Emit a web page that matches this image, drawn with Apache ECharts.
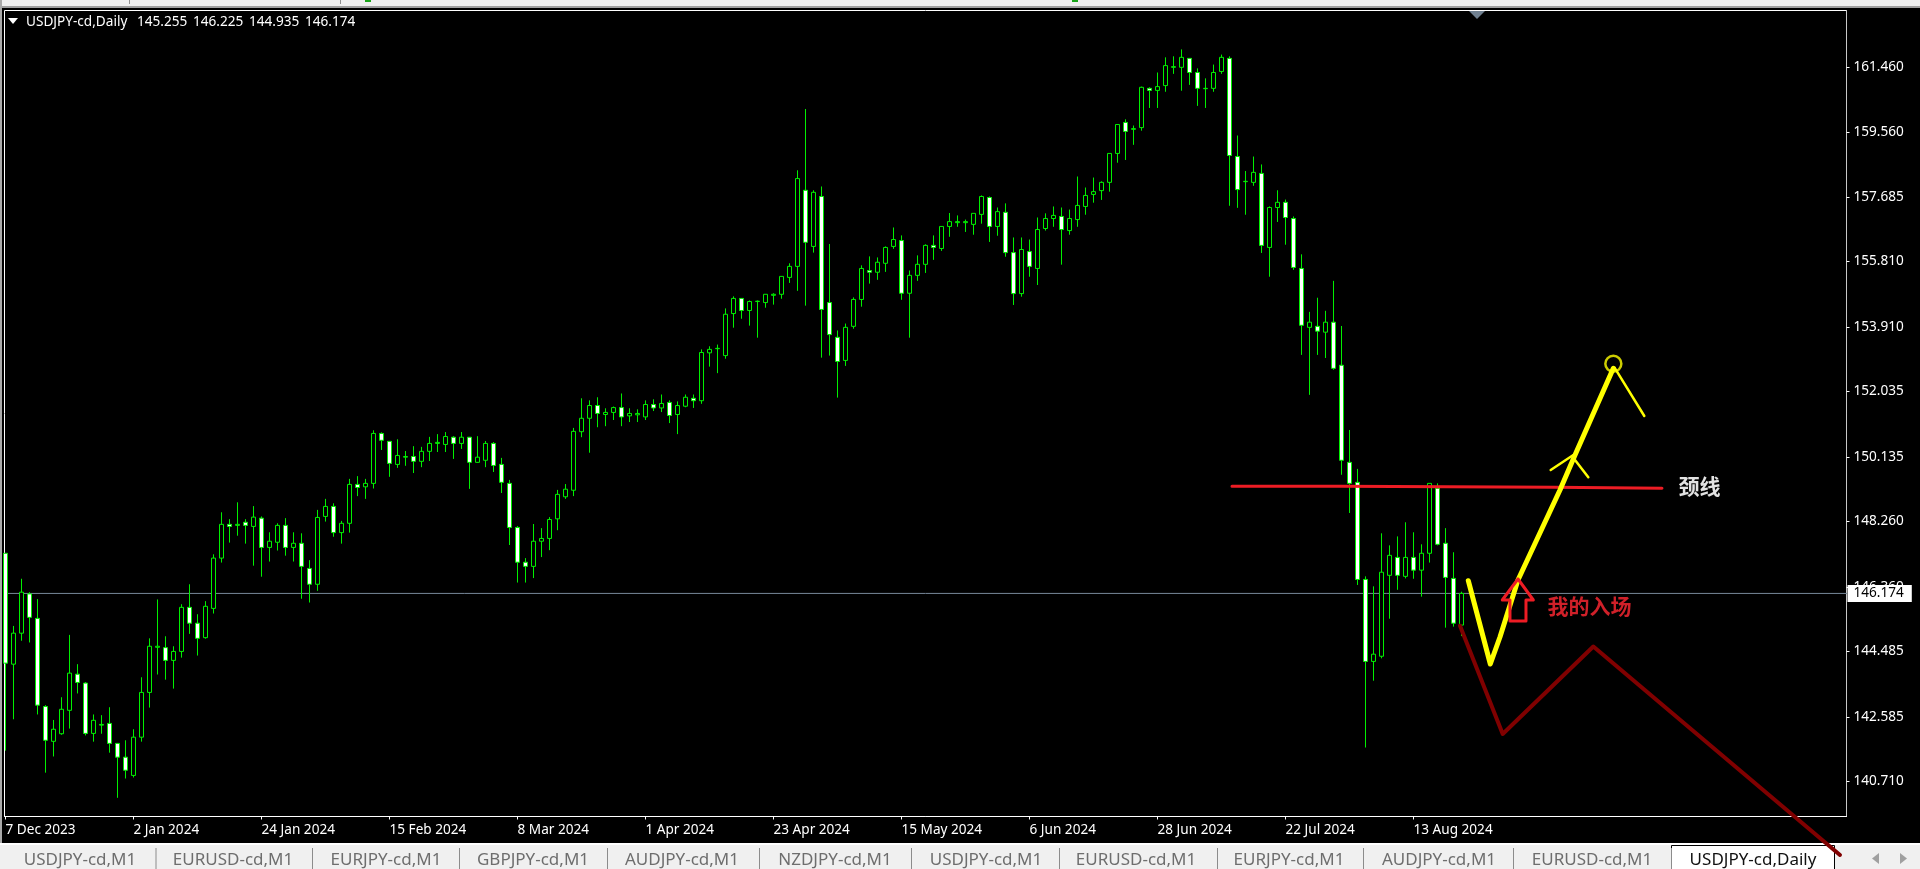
<!DOCTYPE html>
<html><head><meta charset="utf-8"><style>html,body{margin:0;padding:0;background:#000;overflow:hidden}#c{width:1920px;height:869px}</style>
<script src="https://cdn.jsdelivr.net/npm/echarts@6/dist/echarts.min.js"></script></head>
<body><div id="c"></div><script>
const opens=[147.34,144.12,145.02,146.16,145.45,142.89,141.88,142.10,142.78,143.83,143.57,142.11,142.35,142.40,141.82,141.42,140.89,142.00,143.30,144.61,144.60,144.23,144.49,145.77,145.31,144.89,145.74,147.20,148.18,148.15,148.24,148.12,148.36,147.51,147.66,148.15,147.51,147.63,146.90,146.44,
148.41,148.70,147.94,148.21,149.34,149.27,149.37,150.82,150.59,149.92,150.13,150.15,150.01,150.30,150.53,150.50,150.71,150.53,150.71,149.98,150.04,150.53,149.92,149.37,148.09,147.08,146.96,147.69,147.77,148.34,148.98,149.17,
150.87,151.26,151.63,151.37,151.43,151.57,151.33,151.36,151.30,151.66,151.56,151.72,151.37,151.61,151.84,
151.77,153.16,153.28,153.08,154.30,154.74,154.39,154.65,154.62,154.83,154.86,155.35,155.67,157.88,156.25,157.70,154.62,153.61,152.94,153.93,154.71,155.55,155.50,155.76,156.25,156.42,154.89,155.41,
155.73,156.28,156.19,156.83,156.94,156.94,156.89,157.18,157.67,156.83,157.24,156.07,154.88,156.10,155.61,156.77,157.06,157.12,156.71,157.03,157.41,157.76,157.87,158.11,158.95,159.85,159.65,159.70,160.84,160.78,160.92,161.45,161.45,161.71,161.30,160.83,160.84,
161.33,161.71,158.86,158.13,158.11,158.37,156.22,157.38,157.53,157.06,155.61,153.90,153.93,153.76,154.05,152.80,149.98,149.40,146.58,144.20,144.35,146.70,147.22,146.67,147.22,146.85,147.34,149.23,147.63,146.61,145.255];
const closes=[144.15,145.02,146.21,145.48,142.93,141.91,142.23,142.81,143.86,143.59,142.11,142.49,142.37,141.82,141.42,141.04,142.00,143.30,144.64,144.64,144.23,144.49,145.77,145.31,144.87,145.80,147.20,148.18,148.12,148.18,148.15,148.39,147.51,147.69,148.15,147.51,147.63,146.96,146.44,148.38,
148.70,147.94,148.21,149.34,149.25,149.37,150.82,150.62,149.95,150.18,150.15,150.01,150.30,150.53,150.56,150.73,150.53,150.71,149.98,150.13,150.53,149.89,149.40,148.09,147.08,146.96,147.69,147.77,148.32,149.05,149.20,150.88,
151.26,151.63,151.40,151.43,151.57,151.30,151.40,151.40,151.66,151.56,151.69,151.34,151.63,151.87,151.77,
153.17,153.26,153.29,154.28,154.74,154.39,154.65,154.66,154.86,154.86,155.38,155.67,158.22,156.37,157.82,154.42,153.69,152.91,153.90,154.71,155.61,155.50,155.79,156.22,156.45,154.89,155.41,155.73,
156.28,156.22,156.83,156.97,156.97,156.97,157.21,157.70,156.83,157.26,156.07,154.88,156.16,155.67,156.74,157.06,157.15,156.74,157.06,157.44,157.73,157.84,158.11,158.95,159.79,159.59,159.67,160.87,160.78,160.89,161.50,161.47,161.74,161.30,160.84,160.84,161.30,
161.74,158.89,157.90,158.14,158.40,156.28,157.38,157.53,157.09,155.64,153.96,154.05,153.79,154.05,152.71,150.04,149.37,146.58,144.20,144.41,146.79,147.28,146.70,147.22,146.85,147.34,149.37,147.60,146.64,145.31,146.174];
const lows=[141.61,142.52,144.80,144.75,142.66,140.97,141.44,142.07,142.25,143.27,142.05,141.87,142.10,141.55,140.24,140.80,140.83,141.87,142.86,143.82,143.67,143.41,144.31,145.00,144.37,144.86,145.59,147.07,147.65,147.85,147.62,146.98,146.66,147.10,147.42,147.27,147.10,146.02,145.91,146.25,
148.26,147.82,147.62,147.94,149.00,148.92,149.22,150.34,149.56,149.82,149.88,149.67,149.84,150.02,150.28,150.28,150.08,150.37,149.21,149.97,149.84,149.70,149.09,147.58,146.49,146.49,146.62,147.23,147.43,148.01,148.92,149.00,
150.71,150.26,151.00,151.03,151.21,151.03,151.15,151.15,151.21,151.47,151.44,151.12,150.80,151.58,151.56,
151.68,152.76,152.57,152.99,153.89,154.15,153.95,153.60,154.47,154.56,154.73,155.19,154.96,154.53,156.07,153.02,153.08,151.86,152.78,153.86,154.50,155.17,155.28,155.51,156.18,154.70,153.60,155.25,
155.48,155.86,156.12,156.53,156.82,156.67,156.59,156.91,156.38,156.56,155.95,154.55,154.79,155.37,155.13,156.71,156.82,155.72,156.59,156.82,157.17,157.52,157.60,157.84,158.68,158.76,159.20,159.61,160.27,160.27,160.74,161.26,160.77,160.94,160.33,160.27,160.74,
161.26,157.43,157.37,157.17,158.01,156.06,155.37,156.96,156.30,155.57,153.10,151.94,153.10,153.01,152.67,149.62,148.51,146.42,141.70,143.64,144.29,145.44,146.28,146.61,146.60,146.08,147.07,147.57,145.18,145.21,144.935];
const highs=[147.34,145.23,146.60,146.21,146.01,142.93,142.50,143.16,144.97,144.12,143.60,142.66,142.64,142.87,141.82,141.91,142.23,143.74,144.87,146.00,144.93,144.64,145.86,146.44,145.57,145.95,147.31,148.53,148.33,148.82,148.33,148.71,148.41,147.95,148.21,148.36,147.95,147.92,147.14,148.60,
148.92,148.79,148.28,149.50,149.58,149.50,150.91,150.85,150.59,150.65,150.31,150.45,150.43,150.72,150.80,150.86,150.74,150.86,150.71,150.74,150.60,150.57,150.11,149.47,148.13,147.20,148.19,148.07,148.39,149.18,149.35,150.98,
151.84,151.78,151.87,151.55,151.60,151.98,151.55,151.52,151.78,151.81,151.95,151.78,151.75,151.95,151.95,
153.26,153.35,153.40,154.45,154.80,154.74,154.68,154.68,154.86,154.89,155.38,155.76,158.46,160.24,157.88,157.99,156.32,153.81,154.01,154.77,155.70,155.96,155.93,156.25,156.80,156.57,155.55,155.99,
156.31,156.57,156.83,157.22,157.15,157.03,157.21,157.73,157.70,157.38,157.50,156.51,156.51,156.45,157.09,157.21,157.41,157.38,157.32,158.28,157.96,158.25,158.14,158.95,159.79,159.94,159.76,160.89,160.87,161.30,161.74,161.77,161.97,161.71,161.42,161.13,161.53,
161.82,161.77,159.47,158.44,158.86,158.63,157.41,157.88,157.61,157.12,156.02,154.35,154.76,154.38,155.25,153.94,150.92,149.79,146.67,146.38,147.92,147.57,147.83,148.24,147.95,147.60,149.37,149.37,148.07,147.37,146.225];

const dateLabels=['7 Dec 2023','2 Jan 2024','24 Jan 2024','15 Feb 2024','8 Mar 2024','1 Apr 2024','23 Apr 2024','15 May 2024','6 Jun 2024','28 Jun 2024','22 Jul 2024','13 Aug 2024'];
const dateIndex=[0,16,32,48,64,80,96,112,128,144,160,176];
const priceTicks=[161.46,159.56,157.685,155.81,153.91,152.035,150.135,148.26,146.36,144.485,142.585,140.71];
const lastPrice=146.174;
const headerName='USDJPY-cd,Daily';
const headerValues=['145.255','146.225','144.935','146.174'];
const tabNames=['USDJPY-cd,M1','EURUSD-cd,M1','EURJPY-cd,M1','GBPJPY-cd,M1','AUDJPY-cd,M1','NZDJPY-cd,M1','USDJPY-cd,M1','EURUSD-cd,M1','EURJPY-cd,M1','AUDJPY-cd,M1','EURUSD-cd,M1'];

const neckline=[[153.31,149.285],[166.81,149.285],[166.81,149.256],[193.56,149.256],[193.56,149.227],[207.06,149.227]];
const bullPath=[[182.85,146.544],[185.6,144.125],[186.81,144.909],[189.06,146.564],[194.31,149.177],[196.19,150.194],[200.98,152.711]];
const bullBranchA=[[193.15,149.758],[195.98,150.194]];
const bullBranchB=[[196.19,150.048],[197.85,149.546]];
const bullBranchC=[[201.19,152.711],[204.85,151.326]];
const targetCircle=[[200.98,152.845]];
const bearPath=[[181.81,145.237],[187.15,142.093],[198.48,144.633],[229.31,138.579]];
const entryArrow=[[189.06,146.593],[190.98,145.983],[190.06,145.983],[190.06,145.374],[188.06,145.374],[188.06,145.983],[187.1,145.983],[189.06,146.593]];

const xMin=-0.125,xMax=230.125,yMin=139.697,yMax=163.1;
const uiFont='"Noto Sans",sans-serif', cjkFont='"Noto Sans CJK SC",sans-serif';
const candles=opens.map((o,i)=>[i,o,closes[i],lows[i],highs[i]]);
const lineS=(name,data,color,width,z)=>({name,type:'line',data,symbol:'none',clip:false,silent:true,animation:false,z:z||5,lineStyle:{color,width,cap:'round',join:'round'}});

const tabEdges=[0,155.5,312,459,607,759,911,1059,1217,1363,1513,1671];
const tabCenters=[80,233,386,533,682,835,986,1136,1289,1439,1592];
const graphics=[
 {type:'rect',shape:{x:0,y:0,width:1920,height:6},style:{fill:'#f0f0f0'},z:1},
 {type:'rect',shape:{x:0,y:6,width:1920,height:2},style:{fill:'#a0a0a0'},z:1},
 {type:'rect',shape:{x:0,y:0,width:2,height:843},style:{fill:'#a9a9a9'},z:1},
 {type:'rect',shape:{x:129,y:0,width:1,height:4},style:{fill:'#909090'},z:1},
 {type:'rect',shape:{x:340,y:0,width:1,height:4},style:{fill:'#909090'},z:1},
 {type:'rect',shape:{x:365,y:0,width:6,height:2},style:{fill:'#1aa51a'},z:1},
 {type:'rect',shape:{x:1072,y:0,width:6,height:2},style:{fill:'#1aa51a'},z:1},
 {type:'polygon',shape:{points:[[8,18],[18,18],[13,24]]},style:{fill:'#fff'},z:6},
 {type:'polygon',shape:{points:[[1469,11],[1485,11],[1477,19]]},style:{fill:'#708090'},z:6},
 {type:'text',x:26,y:22,style:{text:headerName,fill:'#fff',font:'13.6px '+uiFont,textVerticalAlign:'middle'},z:6},
 {type:'rect',shape:{x:0,y:843,width:1920,height:26},style:{fill:'#f0f0f0'},z:1},
 {type:'rect',shape:{x:0,y:843,width:1920,height:2},style:{fill:'#ffffff'},z:1},
 {type:'rect',shape:{x:1671.5,y:845.5,width:163,height:30},style:{fill:'#fff',stroke:'#000',lineWidth:1},z:1},
 {type:'text',x:1753,y:860.5,style:{text:headerName,fill:'#111',font:'17px '+uiFont,textAlign:'center',textVerticalAlign:'middle'},z:2},
 {type:'polygon',shape:{points:[[1879,853],[1879,864],[1872,858.5]]},style:{fill:'#a0a0a0'},z:2},
 {type:'polygon',shape:{points:[[1900,853],[1900,864],[1907,858.5]]},style:{fill:'#a0a0a0'},z:2},
 {type:'text',x:1699.5,y:486,style:{text:'颈线',fill:'#e2e2e2',font:'bold 21px '+cjkFont,textAlign:'center',textVerticalAlign:'middle'},z:8},
 {type:'text',x:1589.5,y:606,style:{text:'我的入场',fill:'#cf2029',font:'bold 21px '+cjkFont,textAlign:'center',textVerticalAlign:'middle'},z:8}
];
headerValues.forEach((t,i)=>graphics.push({type:'text',x:137+56*i,y:22,style:{text:t,fill:'#fff',font:'13.6px '+uiFont,textVerticalAlign:'middle'},z:6}));
tabEdges.slice(1).forEach(x=>graphics.push({type:'rect',shape:{x:x,y:848,width:1,height:21},style:{fill:'#8c8c8c'},z:2}));
tabNames.forEach((t,i)=>graphics.push({type:'text',x:tabCenters[i],y:860.5,style:{text:t,fill:'#6e6e6e',font:'17px '+uiFont,textAlign:'center',textVerticalAlign:'middle'},z:2}));

const chart=echarts.init(document.getElementById('c'),null,{renderer:'canvas',width:1920,height:869});
chart.setOption({
 backgroundColor:'#000',animation:false,
 grid:{left:4.5,top:10.5,width:1842,height:806,show:true,backgroundColor:'#000',borderColor:'#fff',borderWidth:1,containLabel:false},
 xAxis:{type:'value',min:xMin,max:xMax,position:'bottom',splitLine:{show:false},
  axisLine:{show:true,onZero:false,lineStyle:{color:'#fff',width:1}},
  axisTick:{show:true,length:3,inside:false,customValues:dateIndex,lineStyle:{color:'#fff'}},
  axisLabel:{show:true,customValues:dateIndex,align:'left',margin:7,color:'#fff',fontFamily:uiFont,fontSize:13.6,
   formatter:v=>dateLabels[dateIndex.indexOf(v)]||''}},
 yAxis:{type:'value',min:yMin,max:yMax,position:'right',scale:true,splitLine:{show:false},
  axisLine:{show:true,onZero:false,lineStyle:{color:'#c8c8c8',width:1}},
  axisTick:{show:true,length:3,customValues:priceTicks,lineStyle:{color:'#fff'}},
  axisLabel:{show:true,customValues:priceTicks,margin:7,color:'#fff',fontFamily:uiFont,fontSize:13.6,formatter:v=>v.toFixed(3)}},
 series:[
  {name:'USDJPY',type:'candlestick',data:candles,barWidth:4,z:3,clip:true,silent:true,animation:false,
   itemStyle:{color:'#000',color0:'#fff',borderColor:'#00f000',borderColor0:'#00f000',borderWidth:1}},
  Object.assign(lineS('bid',[[xMin,lastPrice],[xMax,lastPrice]],'#778899',1,2),{
   endLabel:{show:true,formatter:()=>lastPrice.toFixed(3),color:'#000',backgroundColor:'#fff',fontFamily:uiFont,fontSize:13.6,padding:[1,8,1,6],distance:1,lineHeight:15}}),
  lineS('bear',bearPath,'#800000',4,5),
  lineS('neck',neckline,'#ed1c24',3,5),
  lineS('bull',bullPath,'#ffff00',5,6),
  lineS('bullA',bullBranchA,'#ffff00',2.5,6),
  lineS('bullB',bullBranchB,'#ffff00',2.5,6),
  lineS('bullC',bullBranchC,'#ffff00',2.5,6),
  lineS('arrow',entryArrow,'#ed1c24',3,7),
  {name:'target',type:'scatter',data:targetCircle,symbol:'circle',symbolSize:16,clip:false,silent:true,z:6,animation:false,
   itemStyle:{color:'rgba(0,0,0,0)',borderColor:'#ffff00',borderWidth:2.5}}
 ],
 graphic:{elements:graphics}
});
</script></body></html>
